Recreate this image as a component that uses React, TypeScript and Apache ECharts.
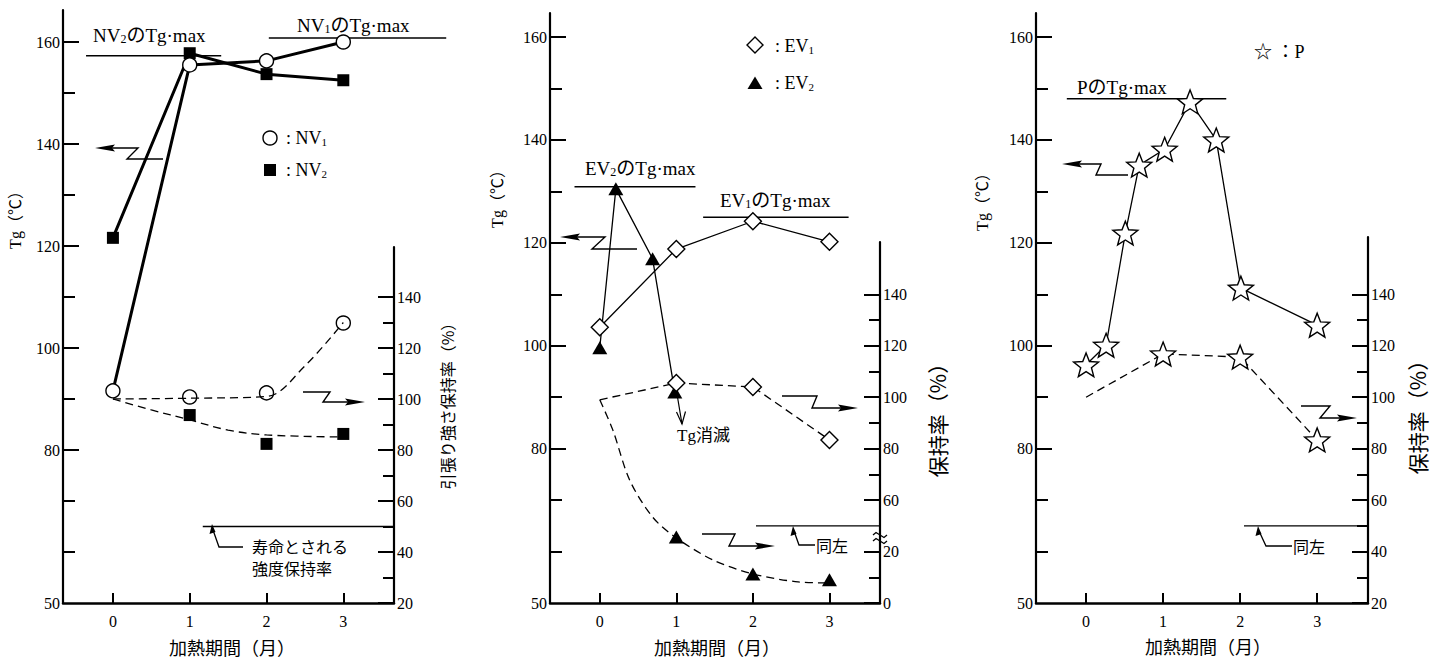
import React, { useEffect, useRef } from "react";
import * as echarts from "echarts";

// ---------------- tick values ----------------
const tgTickLabels = [50, 80, 100, 120, 140, 160];
const tgMajorTicks = [80, 100, 120, 140, 160];
const tgMinorTicks = [60, 70, 90, 110, 130, 150];
const retTickLabels = [20, 40, 60, 80, 100, 120, 140];
const retMajorTicks = [20, 40, 60, 80, 100, 120, 140];
const retMinorTicks = [30, 50, 70, 90, 110, 130];
const retMinorTicksBroken = [30, 70, 90, 110, 130];
const monthTicks = [0, 1, 2, 3];

// ---------------- panel 1 : NV ----------------
const months = [0, 1, 2, 3];
const nv1Tg = [91.6, 155.5, 156.3, 160.0];
const nv2Tg = [121.6, 157.8, 153.7, 152.5];
const retMonths = [1, 2, 3];
const nv1Ret = [100.8, 102.4, 129.8];
const nv2Ret = [93.7, 82.4, 86.3];
const nv1RetFitX = [0, 1, 2, 2.5, 3];
const nv1RetFitY = [100, 100.3, 101, 113, 130];
const nv2RetFitX = [0, 0.5, 1, 1.5, 2, 3];
const nv2RetFitY = [100, 95.7, 91.8, 87.8, 85.9, 85.1];
const nv1TgMax = 160.8;
const nv1TgMaxSpan = [2.03, 4.34];
const nv2TgMax = 157.3;
const nv2TgMaxSpan = [-0.35, 1.41];

// ---------------- panel 2 : EV ----------------
const ev1Tg = [103.6, 118.8, 124.2, 120.2];
const ev2TgX = [0, 0.21, 0.69, 0.98];
const ev2TgY = [99.6, 130.5, 116.9, 91.0];
const ev1Ret = [99, 105.5, 104.0, 83.4]; // months 0..3, month 0 unmarked
const ev2Ret = [25.7, 11.3, 9.0]; // months 1..3, below the axis break
const ev2RetFitX = [0, 0.17, 0.39, 0.69, 1, 1.48, 2, 2.59, 3];
const ev2RetFitY = [99, 87.3, 67.8, 53.4, 25.3, 16.7, 11.3, 8.2, 7.8];
const ev1TgMax = 125.0;
const ev1TgMaxSpan = [1.35, 3.25];
const ev2TgMax = 130.9;
const ev2TgMaxSpan = [-0.33, 1.25];

// ---------------- panel 3 : P ----------------
const pTgX = [0, 0.26, 0.51, 0.69, 1.02, 1.35, 1.69, 2.01, 3];
const pTgY = [96.3, 100.1, 121.9, 135.1, 138.2, 147.4, 140.0, 111.2, 104.0];
const pRet = [100, 116.8, 115.6, 83.4]; // months 0..3, month 0 unmarked
const pTgMax = 148.0;
const pTgMaxSpan = [-0.25, 1.82];

// life-limit retention
const lifeRet = 50;
const lifeStart = [1.17, 2.04, 2.05];

// ---------------- layout ----------------
const SERIF = '"Liberation Serif", "Noto Sans CJK JP", serif';
const JP = '"Noto Sans CJK JP", sans-serif';
const BLK = "#000";
const BOTTOM = 603;
const X_MIN = -0.65;
const X_MAX = 3.66;
const PANELS = [
  { left: 63, width: 331, extL: 54, topL: 10, topR: 247, slope: 5.1 },
  { left: 550, width: 330, extL: 0, topL: 13, topR: 242, slope: 5.145 },
  { left: 1036, width: 332, extL: 0, topL: 13, topR: 237, slope: 5.145 },
];

const brk = (v: number) => (v < 30 ? v + 20 : v);

const starSymbol = (() => {
  const pts: string[] = [];
  for (let i = 0; i < 10; i++) {
    const r = i % 2 === 0 ? 10 : 4.3;
    const a = -Math.PI / 2 + (i * Math.PI) / 5;
    pts.push(`${(10 + r * Math.cos(a)).toFixed(2)} ${(10 + r * Math.sin(a)).toFixed(2)}`);
  }
  return "path://M" + pts.join(" L") + " Z";
})();

const hollow = { color: "#fff", borderColor: BLK, borderWidth: 1.4, opacity: 1 };
const solid = { color: BLK, opacity: 1 };
const dashed = { type: [8, 5], width: 1.3, color: BLK };

function buildOption() {
  const grid: any[] = [];
  const xAxis: any[] = [];
  const yAxis: any[] = [];
  PANELS.forEach((p, i) => {
    grid.push({ left: p.left, top: p.topL, width: p.width + p.extL, height: BOTTOM - p.topL, containLabel: false, outerBoundsMode: "none" });
    grid.push({ left: p.left, top: p.topR, width: p.width, height: BOTTOM - p.topR, containLabel: false, outerBoundsMode: "none" });
    const xMaxL = X_MAX + (p.extL * (X_MAX - X_MIN)) / p.width;
    xAxis.push({ type: "value", gridIndex: 2 * i, min: X_MIN, max: xMaxL, show: false, splitLine: { show: false } });
    xAxis.push({
      type: "value", gridIndex: 2 * i + 1, min: X_MIN, max: X_MAX,
      axisLine: { show: true, onZero: false, lineStyle: { color: BLK, width: 2.5 } },
      axisTick: { show: true, inside: true, length: 10, customValues: monthTicks, lineStyle: { color: BLK, width: 2 } },
      axisLabel: { show: true, customValues: monthTicks, margin: 10, color: BLK, fontFamily: SERIF, fontSize: 16 },
      splitLine: { show: false },
    });
    const lMax = 50 + (BOTTOM - p.topL) / p.slope;
    const rMax = 20 + (BOTTOM - p.topR) / (p.slope / 2);
    const base = (g: number, pos: string, min: number, max: number) => ({
      type: "value", gridIndex: g, position: pos, min, max,
      splitLine: { show: false },
      axisLine: { show: false, onZero: false },
      axisTick: { show: false },
      axisLabel: { show: false },
    });
    yAxis.push({
      ...base(2 * i, "left", 50, lMax),
      axisLine: { show: true, onZero: false, lineStyle: { color: BLK, width: 2.2 } },
      axisTick: { show: true, inside: true, length: 16, customValues: tgMajorTicks, lineStyle: { color: BLK, width: 2 } },
      axisLabel: { show: true, customValues: tgTickLabels, margin: 3, color: BLK, fontFamily: SERIF, fontSize: 16 },
    });
    yAxis.push({
      ...base(2 * i, "left", 50, lMax),
      axisTick: { show: true, inside: true, length: 12, customValues: tgMinorTicks, lineStyle: { color: BLK, width: 2 } },
    });
    yAxis.push({
      ...base(2 * i + 1, "right", 20, rMax),
      axisLine: { show: true, onZero: false, lineStyle: { color: BLK, width: 2.2 } },
      axisTick: { show: true, inside: true, length: 16, customValues: retMajorTicks, lineStyle: { color: BLK, width: 2 } },
      axisLabel: {
        show: true, customValues: retTickLabels, margin: 3, color: BLK, fontFamily: SERIF, fontSize: 16,
        formatter: i === 1 ? (v: number) => String(v <= 40 ? v - 20 : v) : (v: number) => String(v),
      },
    });
    yAxis.push({
      ...base(2 * i + 1, "right", 20, rMax),
      axisTick: { show: true, inside: true, length: 11, customValues: i === 1 ? retMinorTicksBroken : retMinorTicks, lineStyle: { color: BLK, width: 2 } },
    });
  });

  const tg = (i: number) => ({ xAxisIndex: 2 * i, yAxisIndex: 4 * i });
  const rt = (i: number) => ({ xAxisIndex: 2 * i + 1, yAxisIndex: 4 * i + 2 });
  const refLine = (ax: any, v: number, span: number[], w = 1.5) => ({
    type: "line", ...ax, data: [[span[0], v], [span[1], v]], symbol: "none", clip: false,
    lineStyle: { color: BLK, width: w }, z: 1,
  });

  const series: any[] = [
    // ---- panel 1
    refLine(tg(0), nv2TgMax, nv2TgMaxSpan),
    refLine(tg(0), nv1TgMax, nv1TgMaxSpan),
    {
      type: "line", ...tg(0), data: months.map((m, k) => [m, nv2Tg[k]]),
      symbol: "rect", symbolSize: 12, itemStyle: solid, lineStyle: { color: BLK, width: 3 },
    },
    {
      type: "line", ...tg(0), data: months.map((m, k) => [m, nv1Tg[k]]),
      symbol: "circle", symbolSize: 14, itemStyle: hollow, lineStyle: { color: BLK, width: 3 },
    },
    {
      type: "line", ...rt(0), data: nv1RetFitX.map((m, k) => [m, nv1RetFitY[k]]),
      symbol: "none", smooth: 0.35, lineStyle: dashed,
    },
    {
      type: "line", ...rt(0), data: nv2RetFitX.map((m, k) => [m, nv2RetFitY[k]]),
      symbol: "none", smooth: 0.35, lineStyle: dashed,
    },
    {
      type: "scatter", ...rt(0), data: retMonths.map((m, k) => [m, nv1Ret[k]]),
      symbol: "circle", symbolSize: 14, itemStyle: hollow,
    },
    {
      type: "scatter", ...rt(0), data: retMonths.map((m, k) => [m, nv2Ret[k]]),
      symbol: "rect", symbolSize: 12, itemStyle: solid,
    },
    refLine(rt(0), lifeRet, [lifeStart[0], X_MAX], 1.3),

    // ---- panel 2
    refLine(tg(1), ev2TgMax, ev2TgMaxSpan),
    refLine(tg(1), ev1TgMax, ev1TgMaxSpan),
    {
      type: "line", ...tg(1), data: months.map((m, k) => [m, ev1Tg[k]]),
      symbol: "diamond", symbolSize: 17, itemStyle: hollow, lineStyle: { color: BLK, width: 1.3 },
    },
    {
      type: "line", ...tg(1), data: ev2TgX.map((m, k) => [m, ev2TgY[k]]),
      symbol: "triangle", symbolSize: [15, 13], itemStyle: solid, lineStyle: { color: BLK, width: 1.3 },
    },
    {
      type: "line", ...rt(1),
      data: months.map((m, k) => (k === 0 ? { value: [m, ev1Ret[k]], symbol: "none" } : [m, ev1Ret[k]])),
      symbol: "diamond", symbolSize: 17, itemStyle: hollow, lineStyle: dashed,
    },
    {
      type: "line", ...rt(1), data: ev2RetFitX.map((m, k) => [m, brk(ev2RetFitY[k])]),
      symbol: "none", smooth: 0.3, lineStyle: dashed,
    },
    {
      type: "scatter", ...rt(1), data: retMonths.map((m, k) => [m, brk(ev2Ret[k])]),
      symbol: "triangle", symbolSize: [15, 13], itemStyle: solid,
    },
    refLine(rt(1), lifeRet, [lifeStart[1], X_MAX], 1.3),

    // ---- panel 3
    refLine(tg(2), pTgMax, pTgMaxSpan),
    {
      type: "line", ...tg(2), data: pTgX.map((m, k) => [m, pTgY[k]]),
      symbol: starSymbol, symbolSize: 25, symbolKeepAspect: true, itemStyle: hollow,
      lineStyle: { color: BLK, width: 1.3 },
    },
    {
      type: "line", ...rt(2),
      data: months.map((m, k) => (k === 0 ? { value: [m, pRet[k]], symbol: "none" } : [m, pRet[k]])),
      symbol: starSymbol, symbolSize: 25, symbolKeepAspect: true, itemStyle: hollow, lineStyle: dashed,
    },
    refLine(rt(2), lifeRet, [lifeStart[2], X_MAX], 1.3),
  ];

  // ---------------- annotations ----------------
  const poly = (points: number[][], w = 1.4) => ({ type: "polyline", shape: { points }, style: { stroke: BLK, lineWidth: w, fill: null } });
  const headL = (x: number, y: number) => ({ type: "polygon", shape: { points: [[x, y], [x + 20, y - 3.5], [x + 17, y], [x + 20, y + 3.5]] }, style: { fill: BLK } });
  const headR = (x: number, y: number) => ({ type: "polygon", shape: { points: [[x, y], [x - 20, y - 3.5], [x - 17, y], [x - 20, y + 3.5]] }, style: { fill: BLK } });
  const headUp = (x: number, y: number) => ({ type: "polygon", shape: { points: [[x, y], [x - 2.5, y + 10], [x + 3.5, y + 8]] }, style: { fill: BLK } });
  const txt = (x: number, y: number, text: string, size: number, family: string, align = "left") => ({
    type: "text", x, y, style: { text, fontSize: size, fontFamily: family, fill: BLK, align, verticalAlign: "middle" },
  });
  const rich = (size: number) => ({
    a: { fontSize: size, fontFamily: SERIF, fill: BLK },
    s: { fontSize: Math.round(size * 0.62), fontFamily: SERIF, fill: BLK, verticalAlign: "bottom" },
  });
  const rtxt = (x: number, y: number, text: string, size: number) => ({
    type: "text", x, y, style: { text, rich: rich(size), fill: BLK, align: "left", verticalAlign: "middle" },
  });
  const vtxt = (x: number, y: number, text: string, size: number, family: string) => ({
    type: "text", x, y, rotation: Math.PI / 2,
    style: { text, fontSize: size, fontFamily: family, fill: BLK, align: "center", verticalAlign: "middle" },
  });

  const graphic: any[] = [
    // zigzag pointers
    poly([[110, 148], [138, 148], [127, 159], [163, 159]]), headL(95, 148),
    poly([[303, 392], [330, 392], [323, 402], [348, 402]]), headR(365, 402),
    poly([[575, 237], [605, 237], [592, 249], [637, 249]]), headL(560, 237),
    poly([[782, 396], [817, 396], [812, 408], [841, 408]]), headR(858, 408),
    poly([[702, 534], [735, 534], [729, 546], [758, 546]]), headR(775, 546),
    poly([[1077, 164], [1101, 164], [1096, 175], [1128, 175]]), headL(1062, 164),
    poly([[1301, 406], [1330, 406], [1320, 418], [1340, 418]]), headR(1357, 418),
    // life-limit pointers
    poly([[213, 530], [219, 547], [243, 547]], 1.3), headUp(212, 524),
    poly([[794, 531], [799, 545], [815, 545]], 1.3), headUp(793, 526),
    poly([[1259, 531], [1266, 546], [1292, 546]], 1.3), headUp(1258, 526),
    // Tg vanished arrow
    poly([[677, 394], [682, 424]], 1.2), poly([[676.5, 412], [682, 424], [685.5, 411.5]], 1.2),
    // axis break mark
    poly([[873, 535], [876, 532.5], [880, 535], [884, 537.5], [887, 535]], 1.3),
    poly([[873, 541], [876, 538.5], [880, 541], [884, 543.5], [887, 541]], 1.3),
    // legend keys
    { type: "circle", shape: { cx: 270, cy: 138, r: 7 }, style: { fill: "#fff", stroke: BLK, lineWidth: 1.4 } },
    { type: "rect", shape: { x: 264, y: 164, width: 12, height: 12 }, style: { fill: BLK } },
    { type: "polygon", shape: { points: [[755, 37], [763, 45], [755, 53], [747, 45]] }, style: { fill: "#fff", stroke: BLK, lineWidth: 1.4 } },
    { type: "polygon", shape: { points: [[755, 76.5], [762.5, 89], [747.5, 89]] }, style: { fill: BLK } },
    rtxt(286, 138, "{a|: NV}{s|1}", 18),
    rtxt(286, 170, "{a|: NV}{s|2}", 18),
    rtxt(775, 46, "{a|: EV}{s|1}", 18),
    rtxt(775, 83, "{a|: EV}{s|2}", 18),
    txt(1254, 52, "☆ ：P", 18, SERIF),
    // Tg max labels
    rtxt(93, 35, "{a|NV}{s|2}{a|のTg·max}", 19),
    rtxt(297, 25, "{a|NV}{s|1}{a|のTg·max}", 19),
    rtxt(585, 168, "{a|EV}{s|2}{a|のTg·max}", 19),
    rtxt(720, 200, "{a|EV}{s|1}{a|のTg·max}", 19),
    txt(1077, 87, "PのTg·max", 19, SERIF),
    // notes
    txt(252, 546, "寿命とされる", 16, JP),
    txt(252, 568, "強度保持率", 16, JP),
    txt(816, 545, "同左", 16, JP),
    txt(1293, 546, "同左", 16, JP),
    txt(677, 435, "Tg消滅", 17, SERIF),
    // axis names
    vtxt(15, 216, "Tg（℃）", 16, SERIF),
    vtxt(497, 195, "Tg（℃）", 16, SERIF),
    vtxt(982, 198, "Tg（℃）", 16, SERIF),
    vtxt(447, 402, "引張り強さ保持率（%）", 16, JP),
    vtxt(937, 415, "保持率（%）", 21, JP),
    vtxt(1417, 412, "保持率（%）", 21, JP),
    txt(232, 647, "加熱期間（月）", 18, JP, "center"),
    txt(717, 647, "加熱期間（月）", 18, JP, "center"),
    txt(1208, 646, "加熱期間（月）", 18, JP, "center"),
  ];

  return {
    animation: false,
    backgroundColor: "#fff",
    grid, xAxis, yAxis, series, graphic,
  };
}

export default function App() {
  const ref = useRef<HTMLDivElement>(null);
  useEffect(() => {
    if (!ref.current) return;
    const chart = echarts.init(ref.current, null, { renderer: "svg" });
    chart.setOption(buildOption() as any);
    return () => chart.dispose();
  }, []);
  return (
    <div
      ref={ref}
      style={{ position: "fixed", left: 0, top: 0, width: 1440, height: 661, background: "#fff" }}
    />
  );
}
